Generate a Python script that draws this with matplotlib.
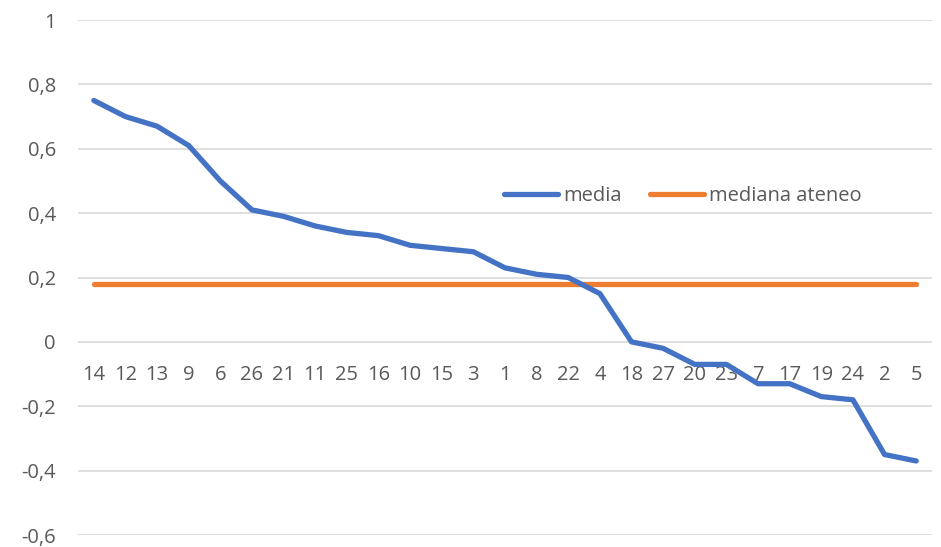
import matplotlib
matplotlib.use("Agg")
import matplotlib.pyplot as plt
from matplotlib.ticker import FuncFormatter

# data
categories = ["14", "12", "13", "9", "6", "26", "21", "11", "25", "16", "10", "15", "3", "1",
              "8", "22", "4", "18", "27", "20", "23", "7", "17", "19", "24", "2", "5"]
media = [0.75, 0.70, 0.67, 0.61, 0.50, 0.41, 0.39, 0.36, 0.34, 0.33, 0.30, 0.29, 0.28, 0.23,
         0.21, 0.20, 0.15, 0.00, -0.02, -0.07, -0.07, -0.13, -0.13, -0.17, -0.18, -0.35, -0.37]
mediana_ateneo = [0.18] * len(categories)

plt.rcParams['font.family'] = ['Open Sans', 'DejaVu Sans']
txt = '#595959'

fig = plt.figure(figsize=(9.41, 5.47), dpi=100)
ax = fig.add_axes([78 / 941, 12 / 547, 854 / 941, 515 / 547])

x = range(len(categories))
ax.plot(x, media, color='#4472C4', lw=3.8, solid_capstyle='round', solid_joinstyle='round',
        label='media', zorder=3)
ax.plot(x, mediana_ateneo, color='#ED7D31', lw=3.8, solid_capstyle='round',
        label='mediana ateneo', zorder=2)

ax.set_xlim(-0.5, len(categories) - 0.5)
ax.set_ylim(-0.6, 1.0)
ax.set_yticks([-0.6, -0.4, -0.2, 0, 0.2, 0.4, 0.6, 0.8, 1.0])
ax.yaxis.set_major_formatter(FuncFormatter(lambda v, p: ('%g' % round(v, 1)).replace('.', ',')))
ax.grid(axis='y', color='#D9D9D9', lw=1.2)
ax.set_axisbelow(True)

for s in ax.spines.values():
    s.set_visible(False)

# category labels sit under the zero line, like Excel
ax.set_xticks(list(x))
ax.set_xticklabels(categories)
ax.spines['bottom'].set_position(('data', 0))
ax.tick_params(axis='x', length=0, pad=17, labelsize=14.5, labelcolor=txt)
ax.tick_params(axis='y', length=0, pad=16, labelsize=14.5, labelcolor=txt)

ax.legend(loc='center', bbox_to_anchor=(683 / 941, 1 - 196 / 547), bbox_transform=fig.transFigure,
          ncol=2, frameon=False, fontsize=14.5, labelcolor=txt, handlelength=2.7,
          handletextpad=0.25, columnspacing=1.4)

fig.savefig('out.png', dpi=100)
